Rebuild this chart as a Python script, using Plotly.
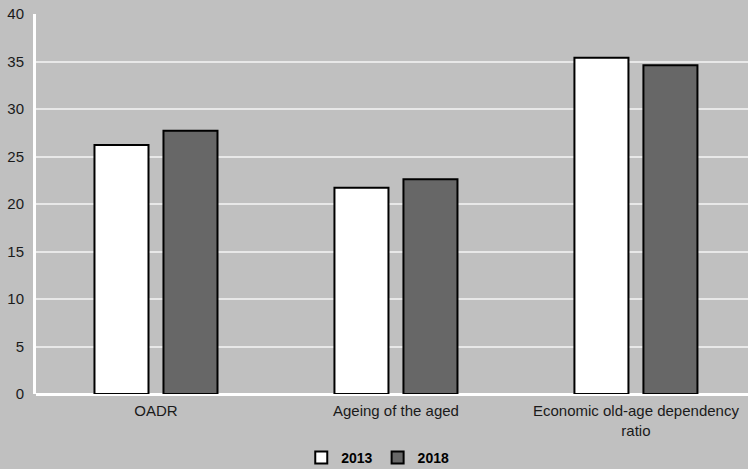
import plotly.graph_objects as go

categories = ["OADR", "Ageing of the aged", "Economic old-age dependency<br>ratio"]
series_names = ["2013", "2018"]
values_2013 = [26.2, 21.7, 35.4]
values_2018 = [27.7, 22.6, 34.6]
y_ticks = [0, 5, 10, 15, 20, 25, 30, 35, 40]

BG = "#c0c0c0"
fig = go.Figure()
fig.add_trace(go.Bar(x=categories, y=values_2013, name=series_names[0],
                     marker=dict(color="#ffffff", line=dict(color="#000000", width=2))))
fig.add_trace(go.Bar(x=categories, y=values_2018, name=series_names[1],
                     marker=dict(color="#676767", line=dict(color="#000000", width=2))))

fig.update_layout(
    width=748, height=469,
    paper_bgcolor=BG, plot_bgcolor=BG,
    margin=dict(l=36, r=0, t=14, b=75, autoexpand=False),
    barmode="group", bargap=0.425, bargroupgap=0.217,
    font=dict(family="Liberation Sans, Arial, sans-serif", size=15, color="#1a1a1a"),
    showlegend=True,
    legend=dict(orientation="h", x=0.48, xanchor="center", y=-0.168, yanchor="middle",
                font=dict(size=14, color="#000000", weight="bold"),
                bgcolor="rgba(0,0,0,0)", itemwidth=30, traceorder="normal"),
    xaxis=dict(range=[-0.5, 2.467], showgrid=False, showline=False, ticks="",
               tickfont=dict(size=15), zeroline=False, automargin=False,
               ticklabelstandoff=6),
    yaxis=dict(range=[0, 40], tickvals=y_ticks, showgrid=True, gridcolor="#e8e8e8",
               gridwidth=1.5, showline=True, linecolor="#ffffff", linewidth=3,
               zeroline=True, zerolinecolor="#ffffff", zerolinewidth=3,
               ticks="", ticklabelstandoff=6, tickfont=dict(size=15), automargin=False),
)
fig.write_html("out.html", config={"displayModeBar": False},
               post_script="document.body.style.margin='0';document.body.style.overflow='hidden';")
